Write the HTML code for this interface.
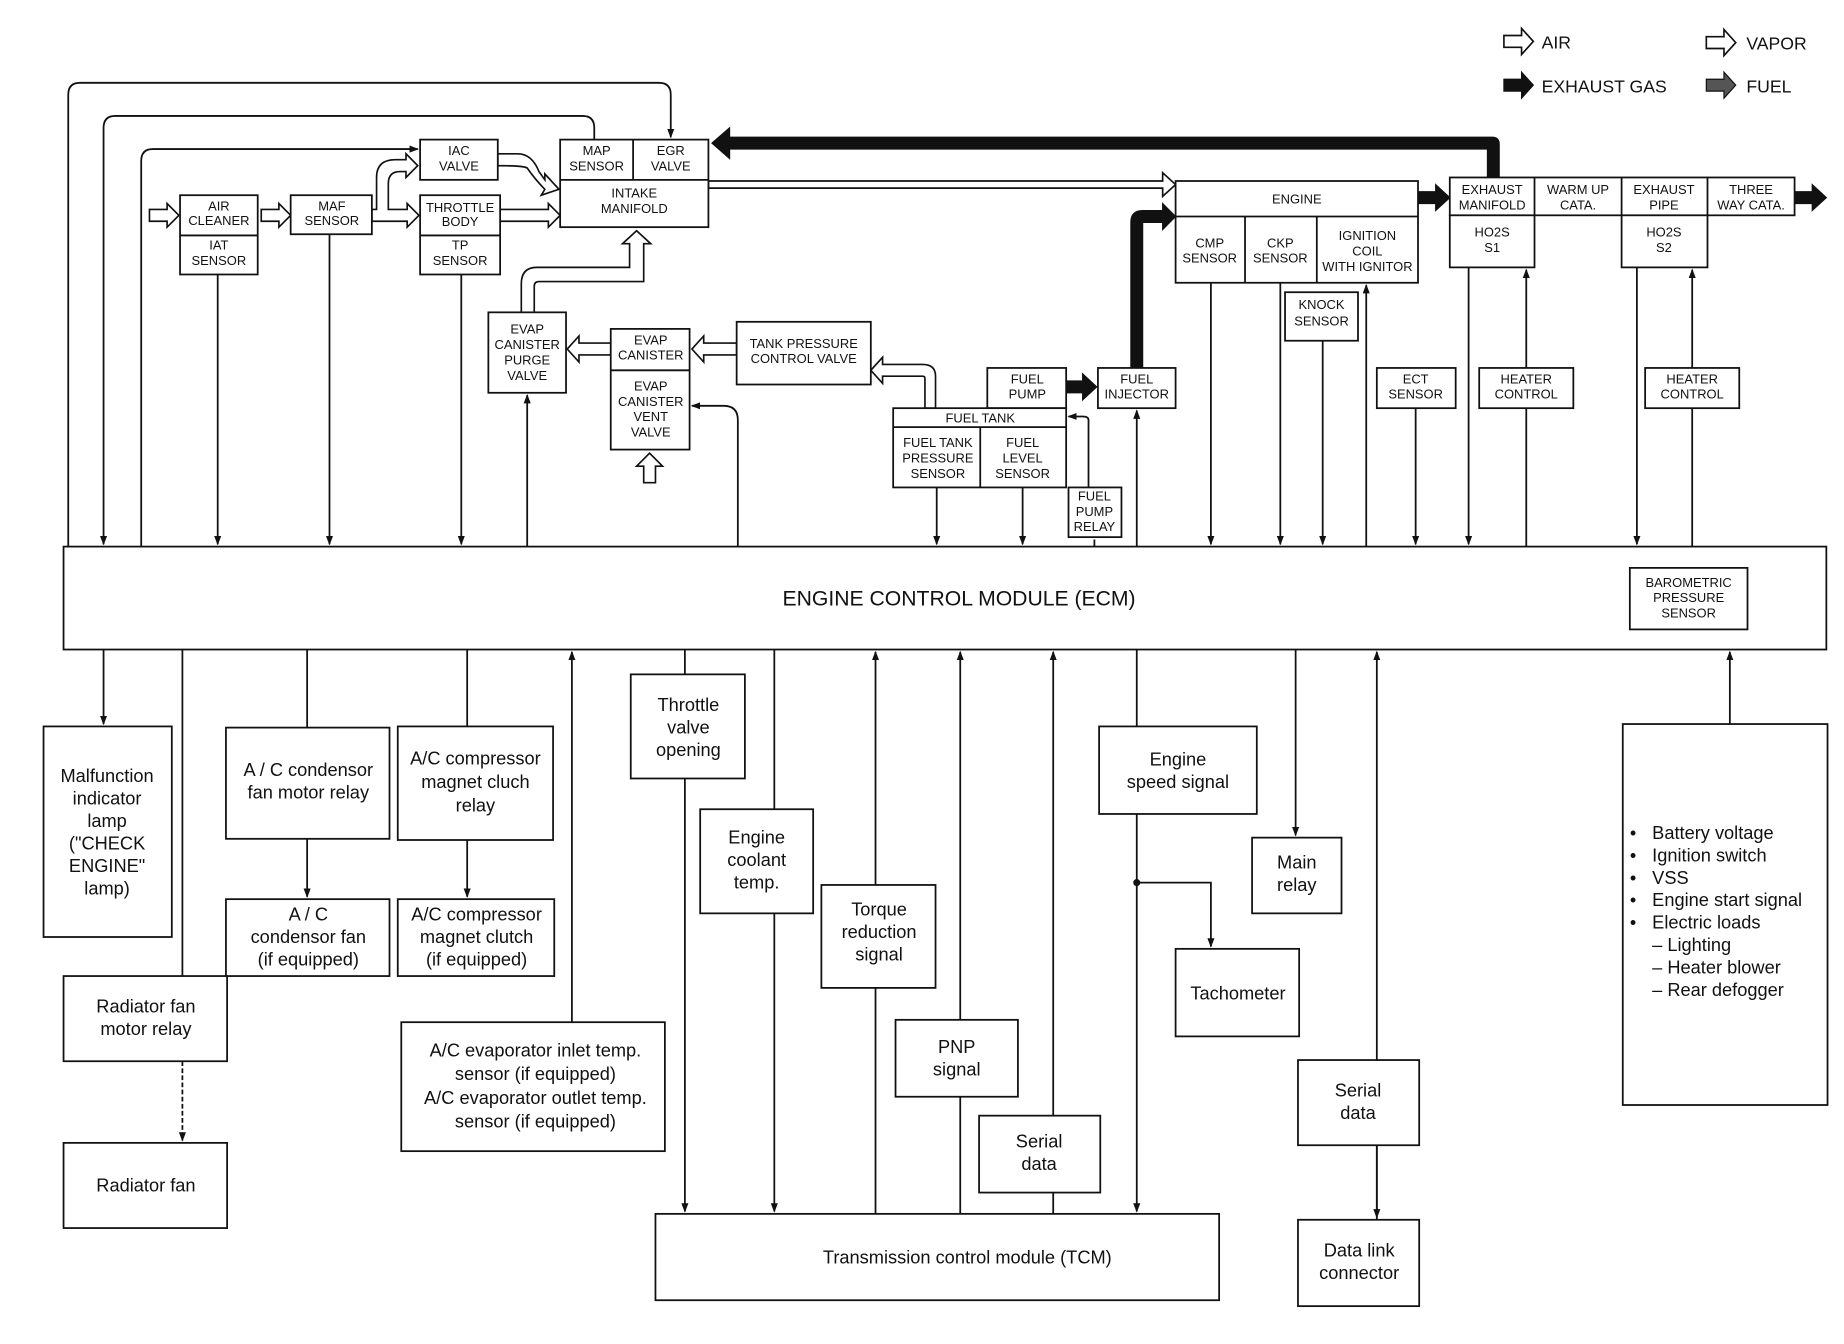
<!DOCTYPE html>
<html><head><meta charset="utf-8"><style>
html,body{margin:0;padding:0;background:#fff}
svg{display:block}
text{font-family:"Liberation Sans",sans-serif;fill:#111}
.s{font-size:11px}
.m{font-size:15.5px}
</style></head><body>
<svg width="1844" height="1344" viewBox="0 0 1567 1136" preserveAspectRatio="none" xmlns="http://www.w3.org/2000/svg">
<defs>
<marker id="a" markerWidth="8" markerHeight="8" refX="7" refY="4" orient="auto" markerUnits="userSpaceOnUse"><path d="M0,1 L8,4 L0,7 Z" fill="#111"/></marker>
</defs>
<g fill="none" stroke="#111" stroke-width="1.5">
<path d="M58,462 V80 Q58,70 68,70 H560 Q570,70 570,80 V116" marker-end="url(#a)"/>
<path d="M505,118 V108 Q505,98 495,98 H98 Q88,98 88,108 V460" marker-end="url(#a)"/>
<path d="M120,462 V136 Q120,126 130,126 H355" marker-end="url(#a)"/>
<path d="M185,232 V460" marker-end="url(#a)"/>
<path d="M280,198 V460" marker-end="url(#a)"/>
<path d="M392,232 V460" marker-end="url(#a)"/>
<path d="M448,462 V334" marker-end="url(#a)"/>
<path d="M627,462 V355 Q627,343 615,343 H588" marker-end="url(#a)"/>
<path d="M796,412 V460" marker-end="url(#a)"/>
<path d="M869,412 V460" marker-end="url(#a)"/>
<path d="M930,462 V456" />
<path d="M925,412 V355 Q925,352 920,352 H908" marker-end="url(#a)"/>
<path d="M966,462 V347" marker-end="url(#a)"/>
<path d="M1029,239 V460" marker-end="url(#a)"/>
<path d="M1088,239 V460" marker-end="url(#a)"/>
<path d="M1124,288 V460" marker-end="url(#a)"/>
<path d="M1161,462 V241" marker-end="url(#a)"/>
<path d="M1203,345 V460" marker-end="url(#a)"/>
<path d="M1248,226 V460" marker-end="url(#a)"/>
<path d="M1297,462 V345 M1297,311 V228" marker-end="url(#a)"/>
<path d="M1391,226 V460" marker-end="url(#a)"/>
<path d="M1438,462 V345 M1438,311 V228" marker-end="url(#a)"/>
<path d="M88,549 V612" marker-end="url(#a)"/>
<path d="M155,549 V825"/>
<path d="M155,897 V964" stroke-dasharray="4,2" marker-end="url(#a)"/>
<path d="M261,549 V615 M261,709 V758" marker-end="url(#a)"/>
<path d="M397,549 V614 M397,710 V758" marker-end="url(#a)"/>
<path d="M486,864 V551" marker-end="url(#a)"/>
<path d="M582,549 V1024" marker-end="url(#a)"/>
<path d="M658,549 V1024" marker-end="url(#a)"/>
<path d="M744,1026 V551" marker-end="url(#a)"/>
<path d="M816,1026 V551" marker-end="url(#a)"/>
<path d="M895,1026 V551" marker-end="url(#a)"/>
<path d="M966,549 V1024" marker-end="url(#a)"/>
<path d="M966,746 H1029 V800" marker-end="url(#a)"/>
<path d="M1101,549 V706" marker-end="url(#a)"/>
<path d="M1170,1031 V551" marker-end="url(#a)"/>
<path d="M1170,968 V1029" marker-end="url(#a)"/>
<path d="M1470,612 V551" marker-end="url(#a)"/>
</g>
<circle cx="966" cy="746" r="3" fill="#111"/>

<g fill="#fff" stroke="#111" stroke-width="1.4">
<path d="M127,177 H142 V172 L152,182 L142,192 V187 H127 Z"/>
<path d="M222,177 H237 V172 L247,182 L237,192 V187 H222 Z"/>
<path d="M316,187 H346 V192 L356,182 L346,172 V177 H330 V155 Q330,145 340,145 H345 V150 L355,140 L345,130 V135 H336 Q320,135 320,150 V177 H316 Z"/>
<path d="M425,177 H466 V172 L476,182 L466,192 V187 H425 Z"/>
<path d="M423,130 H440 Q452,130 458,145 L463,152 V147 L475,160 L460,165 L463,160 Q455,152 448,142 Q445,140 423,140 Z"/>
<path d="M602,153 H988 V146 L999,156 L988,166 V159 H602 Z"/>
<path d="M443,264 V240 Q443,226 456,226 H535 V206 H529 L541,195 L553,206 H547 V238 H458 Q454,238 454,242 V264 Z"/>
<path d="M519,290 H492 V284 L482,295 L492,306 V300 H519 Z"/>
<path d="M626,290 H598 V284 L588,295 L598,306 V300 H626 Z"/>
<path d="M786,345 V320 Q786,318 784,318 H750 V324 L740,313 L750,302 V308 H784 Q795,308 795,318 V345 Z"/>
<path d="M547,408 V394 H541 L552,383 L563,394 H557 V408 Z"/>
<path d="M1278,30 H1293 V24 L1303,35 L1293,46 V40 H1278 Z"/>
<path d="M1450,31 H1465 V25 L1475,36 L1465,47 V41 H1450 Z"/>
</g>
<g fill="#111" stroke="#111">
<path d="M1278,67 H1293 V61 L1303,72 L1293,83 V77 H1278 Z"/>
<path d="M1450,67 H1465 V61 L1475,72 L1465,83 V77 H1450 Z" fill="#555"/>
<path d="M1264,150 V126 H620 V134 L605,121 L620,108 V116 H1268 Q1274,116 1274,122 V150 Z"/>
<path d="M1205,162 H1220 V156 L1232,167 L1220,178 V172 H1205 Z"/>
<path d="M1525,162 H1540 V156 L1552,167 L1540,178 V172 H1525 Z"/>
<path d="M906,322 H920 V316 L932,327 L920,338 V332 H906 Z"/>
<path d="M961,311 V188 Q961,178 971,178 H988 V172 L999,183 L988,194 V188 H971 V311 Z"/>
</g>

<g fill="#fff" stroke="#111" stroke-width="1.5">
<rect x="153" y="165" width="66" height="67"/><path d="M153,199 H219"/>
<rect x="247" y="165" width="69" height="33"/>
<rect x="357" y="118" width="66" height="34"/>
<rect x="357" y="165" width="68" height="67"/><path d="M357,199 H425"/>
<rect x="476" y="118" width="126" height="74"/><path d="M476,152 H602 M538,118 V152"/>
<rect x="999" y="153" width="206" height="86"/><path d="M999,183 H1205 M1058,183 V239 M1119,183 V239"/>
<rect x="1232" y="150" width="293" height="32"/><path d="M1304,150 V182 M1378,150 V182 M1451,150 V182"/>
<rect x="1232" y="182" width="72" height="44"/>
<rect x="1378" y="182" width="73" height="44"/>
<rect x="1092" y="247" width="62" height="41"/>
<rect x="415" y="264" width="66" height="68"/>
<rect x="519" y="278" width="67" height="102"/><path d="M519,313 H586"/>
<rect x="626" y="272" width="114" height="53"/>
<rect x="839" y="311" width="67" height="34"/>
<rect x="933" y="311" width="66" height="34"/>
<rect x="759" y="345" width="147" height="67"/><path d="M759,361 H906 M833,361 V412"/>
<rect x="908" y="412" width="45" height="42"/>
<rect x="1170" y="311" width="67" height="34"/>
<rect x="1257" y="311" width="80" height="34"/>
<rect x="1398" y="311" width="80" height="34"/>
<rect x="54" y="462" width="1498" height="87"/>
<rect x="1385" y="480" width="100" height="52"/>
<rect x="37" y="614" width="109" height="178"/>
<rect x="192" y="615" width="139" height="94"/>
<rect x="338" y="614" width="132" height="96"/>
<rect x="192" y="760" width="139" height="65"/>
<rect x="338" y="760" width="133" height="65"/>
<rect x="54" y="825" width="139" height="72"/>
<rect x="54" y="966" width="139" height="72"/>
<rect x="341" y="864" width="224" height="109"/>
<rect x="536" y="570" width="97" height="88"/>
<rect x="595" y="684" width="96" height="88"/>
<rect x="698" y="748" width="97" height="87"/>
<rect x="761" y="862" width="104" height="65"/>
<rect x="832" y="943" width="103" height="65"/>
<rect x="934" y="614" width="134" height="74"/>
<rect x="1064" y="708" width="76" height="64"/>
<rect x="999" y="802" width="105" height="74"/>
<rect x="1103" y="896" width="103" height="72"/>
<rect x="1103" y="1031" width="103" height="73"/>
<rect x="557" y="1026" width="479" height="73"/>
<rect x="1379" y="612" width="174" height="322"/>
</g>

<g class="s" text-anchor="middle">
<text x="186" y="178">AIR</text><text x="186" y="190">CLEANER</text>
<text x="186" y="211">IAT</text><text x="186" y="224">SENSOR</text>
<text x="282" y="178">MAF</text><text x="282" y="190">SENSOR</text>
<text x="390" y="131">IAC</text><text x="390" y="144">VALVE</text>
<text x="391" y="179">THROTTLE</text><text x="391" y="191">BODY</text>
<text x="391" y="211">TP</text><text x="391" y="224">SENSOR</text>
<text x="507" y="131">MAP</text><text x="507" y="144">SENSOR</text>
<text x="570" y="131">EGR</text><text x="570" y="144">VALVE</text>
<text x="539" y="167">INTAKE</text><text x="539" y="180">MANIFOLD</text>
<text x="1102" y="172">ENGINE</text>
<text x="1028" y="209">CMP</text><text x="1028" y="222">SENSOR</text>
<text x="1088" y="209">CKP</text><text x="1088" y="222">SENSOR</text>
<text x="1162" y="203">IGNITION</text><text x="1162" y="216">COIL</text><text x="1162" y="229">WITH IGNITOR</text>
<text x="1268" y="164">EXHAUST</text><text x="1268" y="177">MANIFOLD</text>
<text x="1341" y="164">WARM UP</text><text x="1341" y="177">CATA.</text>
<text x="1414" y="164">EXHAUST</text><text x="1414" y="177">PIPE</text>
<text x="1488" y="164">THREE</text><text x="1488" y="177">WAY CATA.</text>
<text x="1268" y="200">HO2S</text><text x="1268" y="213">S1</text>
<text x="1414" y="200">HO2S</text><text x="1414" y="213">S2</text>
<text x="1123" y="261">KNOCK</text><text x="1123" y="275">SENSOR</text>
<text x="448" y="282">EVAP</text><text x="448" y="295">CANISTER</text><text x="448" y="308">PURGE</text><text x="448" y="321">VALVE</text>
<text x="553" y="291">EVAP</text><text x="553" y="304">CANISTER</text>
<text x="553" y="330">EVAP</text><text x="553" y="343">CANISTER</text><text x="553" y="356">VENT</text><text x="553" y="369">VALVE</text>
<text x="683" y="294">TANK PRESSURE</text><text x="683" y="307">CONTROL VALVE</text>
<text x="873" y="324">FUEL</text><text x="873" y="337">PUMP</text>
<text x="966" y="324">FUEL</text><text x="966" y="337">INJECTOR</text>
<text x="833" y="357">FUEL TANK</text>
<text x="797" y="378">FUEL TANK</text><text x="797" y="391">PRESSURE</text><text x="797" y="404">SENSOR</text>
<text x="869" y="378">FUEL</text><text x="869" y="391">LEVEL</text><text x="869" y="404">SENSOR</text>
<text x="930" y="423">FUEL</text><text x="930" y="436">PUMP</text><text x="930" y="449">RELAY</text>
<text x="1203" y="324">ECT</text><text x="1203" y="337">SENSOR</text>
<text x="1297" y="324">HEATER</text><text x="1297" y="337">CONTROL</text>
<text x="1438" y="324">HEATER</text><text x="1438" y="337">CONTROL</text>
<text x="1435" y="496">BAROMETRIC</text><text x="1435" y="509">PRESSURE</text><text x="1435" y="522">SENSOR</text>
</g>
<g font-size="15" text-anchor="start">
<text x="1310" y="41">AIR</text><text x="1484" y="42">VAPOR</text>
<text x="1310" y="78">EXHAUST GAS</text><text x="1484" y="78">FUEL</text>
</g>
<text x="815" y="512" font-size="18" text-anchor="middle">ENGINE CONTROL MODULE (ECM)</text>

<g class="m" text-anchor="middle">
<text x="91" y="661">Malfunction</text><text x="91" y="680">indicator</text><text x="91" y="699">lamp</text><text x="91" y="718">("CHECK</text><text x="91" y="737">ENGINE"</text><text x="91" y="756">lamp)</text>
<text x="262" y="656">A / C condensor</text><text x="262" y="675">fan motor relay</text>
<text x="404" y="646">A/C compressor</text><text x="404" y="666">magnet cluch</text><text x="404" y="686">relay</text>
<text x="262" y="778">A / C</text><text x="262" y="797">condensor fan</text><text x="262" y="816">(if equipped)</text>
<text x="405" y="778">A/C compressor</text><text x="405" y="797">magnet clutch</text><text x="405" y="816">(if equipped)</text>
<text x="124" y="856">Radiator fan</text><text x="124" y="875">motor relay</text>
<text x="124" y="1007">Radiator fan</text>
<text x="455" y="893">A/C evaporator inlet temp.</text><text x="455" y="913">sensor (if equipped)</text><text x="455" y="933">A/C evaporator outlet temp.</text><text x="455" y="953">sensor (if equipped)</text>
<text x="585" y="601">Throttle</text><text x="585" y="620">valve</text><text x="585" y="639">opening</text>
<text x="643" y="713">Engine</text><text x="643" y="732">coolant</text><text x="643" y="751">temp.</text>
<text x="747" y="774">Torque</text><text x="747" y="793">reduction</text><text x="747" y="812">signal</text>
<text x="813" y="890">PNP</text><text x="813" y="909">signal</text>
<text x="883" y="970">Serial</text><text x="883" y="989">data</text>
<text x="1001" y="647">Engine</text><text x="1001" y="666">speed signal</text>
<text x="1102" y="734">Main</text><text x="1102" y="753">relay</text>
<text x="1052" y="845">Tachometer</text>
<text x="1154" y="927">Serial</text><text x="1154" y="946">data</text>
<text x="1155" y="1062">Data link</text><text x="1155" y="1081">connector</text>
<text x="822" y="1068">Transmission control module (TCM)</text>
</g>
<g class="m">
<text x="1385" y="709">•</text><text x="1404" y="709">Battery voltage</text>
<text x="1385" y="728">•</text><text x="1404" y="728">Ignition switch</text>
<text x="1385" y="747">•</text><text x="1404" y="747">VSS</text>
<text x="1385" y="766">•</text><text x="1404" y="766">Engine start signal</text>
<text x="1385" y="785">•</text><text x="1404" y="785">Electric loads</text>
<text x="1404" y="804">– Lighting</text>
<text x="1404" y="823">– Heater blower</text>
<text x="1404" y="842">– Rear defogger</text>
</g>
</svg>
</body></html>
